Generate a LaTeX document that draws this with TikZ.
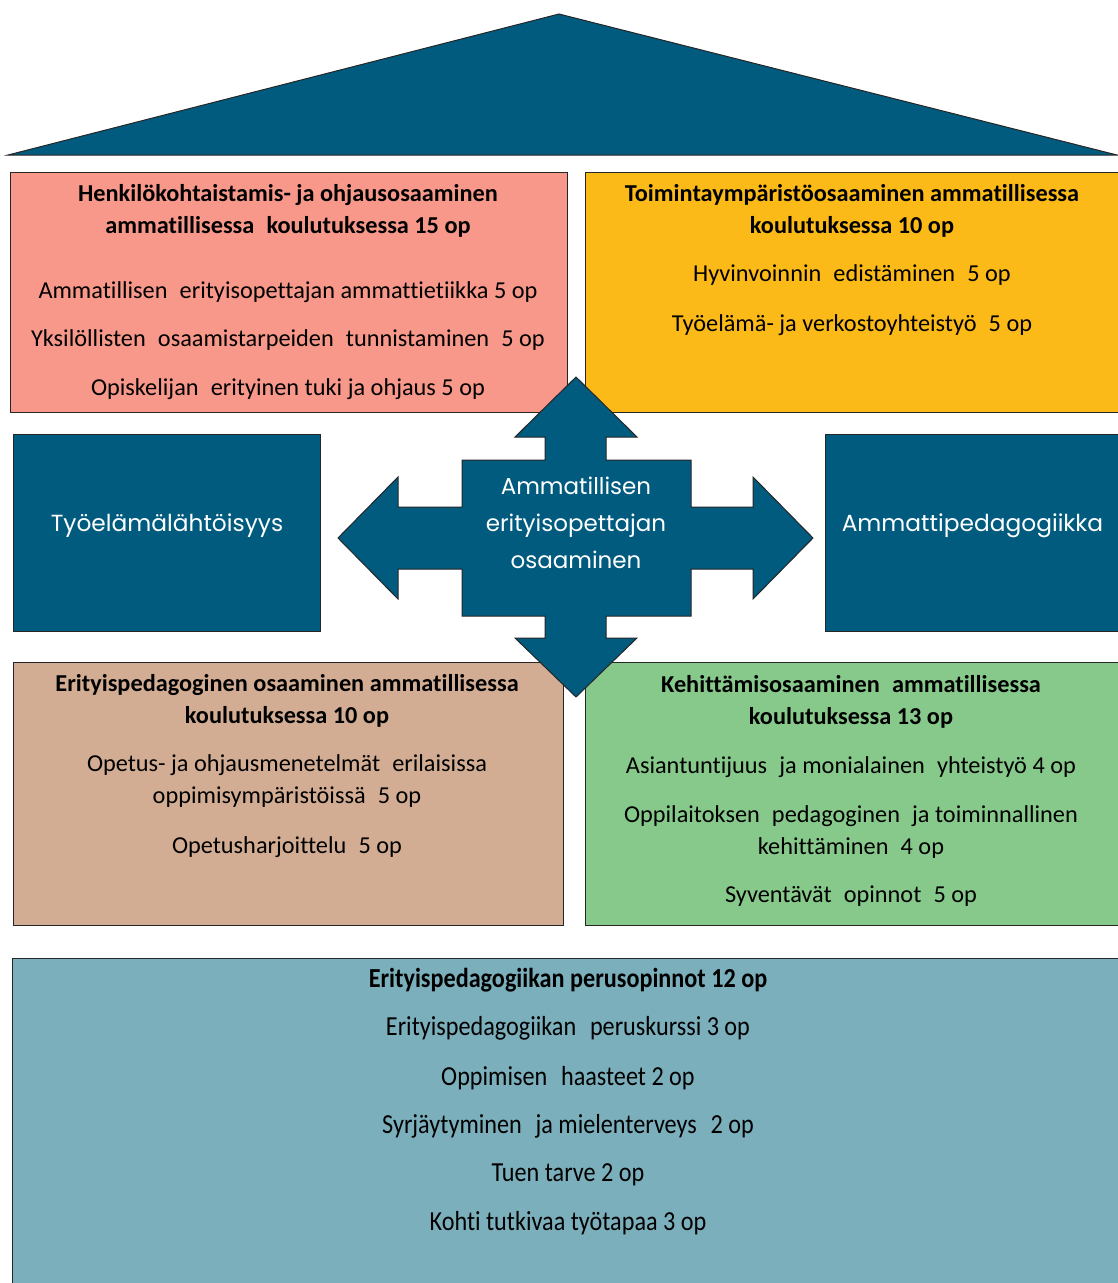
\documentclass[tikz,border=0pt]{standalone}
\usepackage{fontspec}
\setmainfont[Ligatures=NoCommon]{Carlito}
\newfontfamily\gothfont{Poppins}
\newfontfamily\narrowfont[FakeStretch=0.88, Ligatures=NoCommon]{Carlito}
\definecolor{deepblue}{HTML}{005B7F}
\definecolor{salmon}{HTML}{F7988A}
\definecolor{amber}{HTML}{FBBA17}
\definecolor{tan}{HTML}{D2AD93}
\definecolor{leaf}{HTML}{87C98B}
\definecolor{steel}{HTML}{7BAFBC}
\tikzset{
  field/.style={draw=black!85, line width=1pt, anchor=north west, inner sep=0pt},
  pillar/.style={field, fill=deepblue},
  pillartext/.style={text=white, font=\gothfont\fontsize{23.3}{28}\selectfont},
  head/.style={align=center, font=\fontsize{24.3}{32}\selectfont\bfseries},
  item/.style={align=center, font=\fontsize{24.3}{32}\selectfont},
  base/.style={align=center, font=\narrowfont\fontsize{27.5}{30}\selectfont}
}
\begin{document}
\begin{tikzpicture}[x=1pt, y=-1pt]
\useasboundingbox (0,0) rectangle (1117,1283);
% roof
\draw[fill=deepblue, draw=black!85, line width=1pt] (8,155) -- (559,14) -- (1117,155) -- cycle;
% the four study modules
\node[field, fill=salmon, minimum width=557, minimum height=240] (pers) at (10,172) {};
\node[field, fill=amber, minimum width=535, minimum height=240] (env) at (585,172) {};
\node[field, fill=tan, minimum width=550, minimum height=263] (spec) at (13,662) {};
\node[field, fill=leaf, minimum width=535, minimum height=263] (dev) at (585,662) {};
\node[field, fill=steel, minimum width=1108, minimum height=330] (basic) at (12,958) {};
% side pillars
\node[pillar, minimum width=307, minimum height=197] (worklife) at (13,434) {};
\node[pillar, minimum width=294, minimum height=197] (pedagogy) at (825,434) {};
\node[pillartext] (worklifeT) at ([yshift=7pt]worklife.center) {Työelämälähtöisyys};
\node[pillartext] (pedagogyT) at ([yshift=7pt]pedagogy.center) {Ammattipedagogiikka};
% texts of the modules
\node[head] (persT) at (288,211) {Henkilökohtaistamis- ja ohjausosaaminen\\ammatillisessa\enspace koulutuksessa 15 op};
\node[item] (pers1) at (288,292) {Ammatillisen\enspace erityisopettajan ammattietiikka 5 op};
\node[item] (pers2) at (288,340) {Yksilöllisten\enspace osaamistarpeiden\enspace tunnistaminen\enspace 5 op};
\node[item] (pers3) at (288,389) {Opiskelijan\enspace erityinen tuki ja ohjaus 5 op};
\node[head] (envT) at (852,211) {Toimintaympäristöosaaminen ammatillisessa\\koulutuksessa 10 op};
\node[item] (env1) at (852,275) {Hyvinvoinnin\enspace edistäminen\enspace 5 op};
\node[item] (env2) at (852,325) {Työelämä- ja verkostoyhteistyö\enspace 5 op};
\node[head] (specT) at (287,701) {Erityispedagoginen osaaminen ammatillisessa\\koulutuksessa 10 op};
\node[item] (spec1) at (287,781) {Opetus- ja ohjausmenetelmät\enspace erilaisissa\\oppimisympäristöissä\enspace 5 op};
\node[item] (spec2) at (287,847) {Opetusharjoittelu\enspace 5 op};
\node[head] (devT) at (851,702) {Kehittämisosaaminen\enspace ammatillisessa\\koulutuksessa 13 op};
\node[item] (dev1) at (851,767) {Asiantuntijuus\enspace ja monialainen\enspace yhteistyö 4 op};
\node[item] (dev2) at (851,832) {Oppilaitoksen\enspace pedagoginen\enspace ja toiminnallinen\\kehittäminen\enspace 4 op};
\node[item] (dev3) at (851,896) {Syventävät\enspace opinnot\enspace 5 op};
\node[base, font=\narrowfont\fontsize{27.5}{30}\selectfont\bfseries] (basicT) at (568,980) {Erityispedagogiikan perusopinnot 12 op};
\node[base] (basic1) at (568,1028) {Erityispedagogiikan\enspace peruskurssi 3 op};
\node[base] (basic2) at (568,1078) {Oppimisen\enspace haasteet 2 op};
\node[base] (basic3) at (568,1126) {Syrjäytyminen\enspace ja mielenterveys\enspace 2 op};
\node[base] (basic4) at (568,1175) {Tuen tarve 2 op};
\node[base] (basic5) at (568,1223) {Kohti tutkivaa työtapaa 3 op};
% four-way arrow in the middle
\draw[fill=deepblue, draw=black!85, line width=1pt]
  (576,377) -- (637,437) -- (606,437) -- (606,460) -- (691,460) -- (691,507)
  -- (753,507) -- (753,477) -- (813,538) -- (753,599) -- (753,569) -- (691,569)
  -- (691,616) -- (606,616) -- (606,638) -- (637,638) -- (576,697) -- (515,638)
  -- (545,638) -- (545,616) -- (462,616) -- (462,569) -- (398,569) -- (398,599)
  -- (338,538) -- (398,477) -- (398,507) -- (462,507) -- (462,460) -- (545,460)
  -- (545,437) -- (515,437) -- cycle;
\node[align=center, text=white, font=\gothfont\fontsize{23}{37}\selectfont] (core) at (576,523) {Ammatillisen\\erityisopettajan\\osaaminen};
\end{tikzpicture}
\end{document}
